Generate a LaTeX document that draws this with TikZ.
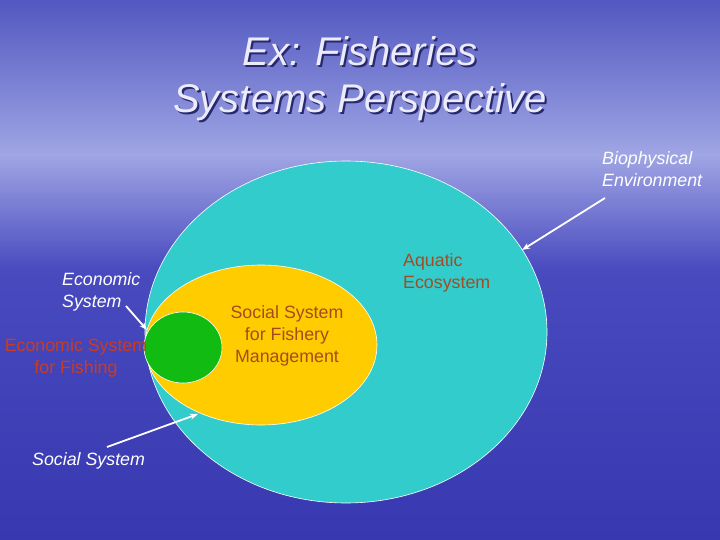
\documentclass[tikz,border=0pt]{standalone}
\usepackage{fontspec}
\setmainfont{Liberation Sans}
\usetikzlibrary{arrows.meta}
\definecolor{skytop}{RGB}{82,88,192}
\definecolor{skymid}{RGB}{160,165,228}
\definecolor{seamid}{RGB}{72,74,190}
\definecolor{seabot}{RGB}{56,56,176}
\definecolor{aqua}{RGB}{51,204,204}
\definecolor{yel}{RGB}{255,204,0}
\definecolor{grn}{RGB}{17,187,17}
\definecolor{brownlbl}{RGB}{165,75,35}
\definecolor{redlbl}{RGB}{200,60,35}
\definecolor{titlecol}{RGB}{235,235,250}
\definecolor{shadowcol}{RGB}{40,40,110}
\tikzset{
  wlabel/.style={text=white, font=\itshape\fontsize{17.8}{22}\selectfont, align=left, inner sep=0pt},
  blabel/.style={font=\fontsize{17.8}{22}\selectfont, align=center, inner sep=0pt},
  warrow/.style={white, line width=1.8pt, -{Stealth[length=8pt,width=6pt]}},
  ttl/.style={font=\itshape\fontsize{40}{47}\selectfont, align=center, inner sep=0pt}
}
\begin{document}
\begin{tikzpicture}[x=1pt,y=-1pt]
\useasboundingbox (0,0) rectangle (720,540);
% background
\shade[top color=skytop, bottom color=skymid] (0,0) rectangle (720,155);
\shade[top color=skymid, bottom color=seamid] (0,155) rectangle (720,270);
\shade[top color=seamid, bottom color=seabot] (0,270) rectangle (720,540);
% title
\node[ttl, text=shadowcol] (tshadow) at (362,81) {Ex: Fisheries\\Systems Perspective};
\node[ttl, text=titlecol] (title) at (360,79) {Ex: Fisheries\\Systems Perspective};
% shapes
\draw[white, line width=0.6pt, fill=aqua] (346,332) ellipse [x radius=201pt, y radius=171pt];
\draw[white, line width=0.6pt, fill=yel] (261,345) ellipse [x radius=116pt, y radius=80pt];
\draw[white, line width=0.6pt, fill=grn] (183,347.5) ellipse [x radius=39pt, y radius=35.5pt];
\coordinate (bioend) at (522,250);
\coordinate (econend) at (147,330);
\coordinate (socend) at (198,414);
% labels
\node[wlabel, anchor=north west] (bio) at (602,151) {Biophysical\\Environment};
\node[blabel, text=brownlbl, align=left, anchor=north west] (aq) at (403,253) {Aquatic\\Ecosystem};
\node[wlabel, anchor=north west] (econ) at (62,272) {Economic\\System};
\node[blabel, text=redlbl] (econfish) at (76,358) {Economic System\\for Fishing};
\node[wlabel, anchor=west] (soc) at (32,461) {Social System};
\node[blabel, text=brownlbl] (socfish) at (287,336) {Social System\\for Fishery\\Management};
% connectors
\coordinate (biostart) at (605,198);
\coordinate (econstart) at (126,306);
\coordinate (socstart) at (107,447);
\draw[warrow] (biostart) -- (bioend);
\draw[warrow] (econstart) -- (econend);
\draw[warrow] (socstart) -- (socend);
\end{tikzpicture}
\end{document}
